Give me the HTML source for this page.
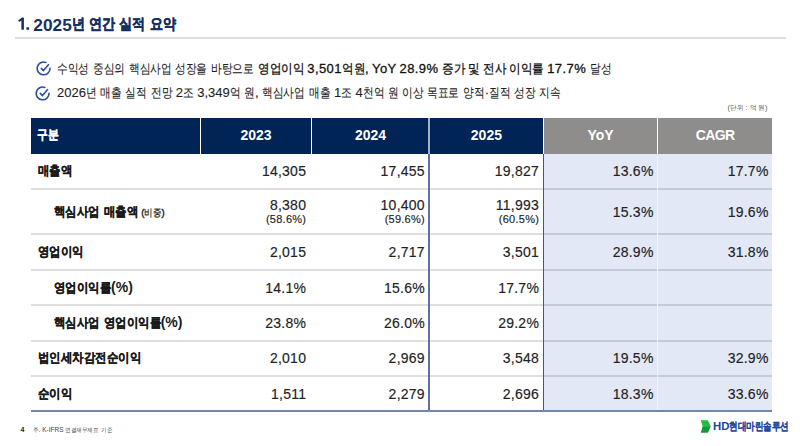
<!DOCTYPE html>
<html lang="ko">
<head>
<meta charset="utf-8">
<style>
*{margin:0;padding:0;box-sizing:border-box;}
html,body{width:800px;height:446px;overflow:hidden;background:#fff;}
body{position:relative;font-family:"Liberation Sans",sans-serif;color:#1e1e1e;}
.abs{position:absolute;white-space:nowrap;}
.title{left:18px;top:14px;font-size:17.3px;font-weight:bold;color:#17305f;line-height:22px;}
.title .k{font-size:14.8px;}
.rule{left:15px;top:37px;width:771px;height:2px;background:#dedede;}
.bl{left:57px;font-size:13px;line-height:16px;color:#1e1e1e;-webkit-text-stroke:0.12px currentColor;}
.bl .k{font-size:12.9px;}
.bl b{font-weight:normal;color:#111;-webkit-text-stroke:0.3px currentColor;letter-spacing:0.4px;}
.ico{width:15px;height:15px;}
.unit{right:32.5px;top:103px;font-size:7.5px;color:#555;--s:0.95;}
.hd{top:118px;height:35.6px;padding-bottom:1.9px;background:#012457;color:#fff;font-weight:bold;font-size:14px;display:flex;align-items:center;justify-content:center;}
.hd .k{font-size:13.3px;}
.hd.g{background:#8e8d8b;}
.cell{display:flex;align-items:center;justify-content:flex-end;font-size:14px;padding-right:3.4px;color:#222;-webkit-text-stroke:0.15px currentColor;letter-spacing:0.25px;}
.lab{left:31px;width:169px;display:flex;align-items:center;font-size:14px;font-weight:bold;padding-left:7px;color:#1a1a1a;}
.lab .k{font-size:13.2px;}
.lab.in{padding-left:23px;}
.hl{background:#e2e8f5;}
.hline{height:2px;background:rgba(0,0,0,0.125);}

.cell.two{flex-direction:column;align-items:flex-end;justify-content:center;}
.cell.two .sub{font-size:11px;line-height:12px;}
.cell.two div:first-child{line-height:15px;}
.sm{font-size:9.5px;font-weight:normal;margin-left:3.5px;-webkit-text-stroke:0.4px currentColor;color:#222;}
.sm .k{font-size:9.6px;}
.pg{left:20.5px;top:426px;font-size:7px;font-weight:bold;color:#222;}
.note{left:33px;top:426px;font-size:6.5px;color:#444;}
.note .k{font-size:6.2px;}
.logo{left:713px;top:419.5px;font-size:11.4px;font-weight:bold;color:#2045a0;}
.logo .k{font-size:10.5px;}
.unit .k{font-size:7.2px;}
.k{display:inline-block;transform:translateY(var(--dy,0px)) scaleX(var(--s));transform-origin:0 50%;margin-right:calc((var(--s) - 1) * var(--n) * 1em);}
.title{--s:0.87;--dy:-2.5px;word-spacing:-0.6px;}
.bl{--s:0.825;}
.bl b{--s:0.89;word-spacing:-0.8px;}
.bl b .k{letter-spacing:0;}
.lab{--s:0.88;}
.hd{--s:0.83;--dy:-0.3px;}
.lab .k,.hd .k{-webkit-text-stroke:0.25px currentColor;}
.title .k{-webkit-text-stroke:0.45px currentColor;}
.logo .k{-webkit-text-stroke:0.1px currentColor;}
.sm{--s:0.85;}
.logo{--s:0.78;}
.note{--s:0.93;}

</style>
</head>
<body>

<svg class="abs" style="left:18px;top:17px" width="13" height="14" viewBox="0 0 13 14"><rect x="3.4" y="0.8" width="2.5" height="11.9" fill="#17305f"/><path d="M1.5 3.6 L4.6 1.6" stroke="#17305f" stroke-width="2.2" stroke-linecap="round" fill="none"/><rect x="8.4" y="10.3" width="2.7" height="2.5" rx="0.5" fill="#17305f"/></svg>
<div class="abs title" style="left:33.3px">2025<span class="k" style="--n:1">년</span> <span class="k" style="--n:2">연간</span> <span class="k" style="--n:2">실적</span> <span class="k" style="--n:2">요약</span></div>
<div class="abs rule"></div>

<svg class="abs ico" style="left:36px;top:61px" viewBox="0 0 15 15"><path d="M9.8 1.4 A6.4 6.4 0 1 0 14 7.2" fill="none" stroke="#2b4fa3" stroke-width="1.6" stroke-linecap="round"/><path d="M5.3 7.4 L7.5 9.6 L12.4 3.7" fill="none" stroke="#2b4fa3" stroke-width="1.6" stroke-linecap="round" stroke-linejoin="round"/></svg>
<div class="abs bl" style="top:61px"><span class="k" style="--n:3">수익성</span> <span class="k" style="--n:3">중심의</span> <span class="k" style="--n:4">핵심사업</span> <span class="k" style="--n:3">성장을</span> <span class="k" style="--n:4">바탕으로</span> <b><span class="k" style="--n:4">영업이익</span> 3,501<span class="k" style="--n:2">억원</span>, YoY 28.9% <span class="k" style="--n:2">증가</span> <span class="k" style="--n:1">및</span> <span class="k" style="--n:2">전사</span> <span class="k" style="--n:3">이익률</span> 17.7%</b> <span class="k" style="--n:2">달성</span></div>

<svg class="abs ico" style="left:35.3px;top:85.8px" viewBox="0 0 15 15"><path d="M9.8 1.4 A6.4 6.4 0 1 0 14 7.2" fill="none" stroke="#2b4fa3" stroke-width="1.6" stroke-linecap="round"/><path d="M5.3 7.4 L7.5 9.6 L12.4 3.7" fill="none" stroke="#2b4fa3" stroke-width="1.6" stroke-linecap="round" stroke-linejoin="round"/></svg>
<div class="abs bl" style="top:85px">2026<span class="k" style="--n:1">년</span> <span class="k" style="--n:2">매출</span> <span class="k" style="--n:2">실적</span> <span class="k" style="--n:2">전망</span> 2<span class="k" style="--n:1">조</span> 3,349<span class="k" style="--n:1">억</span> <span class="k" style="--n:1">원</span>, <span class="k" style="--n:4">핵심사업</span> <span class="k" style="--n:2">매출</span> 1<span class="k" style="--n:1">조</span> 4<span class="k" style="--n:2">천억</span> <span class="k" style="--n:1">원</span> <span class="k" style="--n:2">이상</span> <span class="k" style="--n:3">목표로</span> <span class="k" style="--n:2">양적</span>·<span class="k" style="--n:2">질적</span> <span class="k" style="--n:2">성장</span> <span class="k" style="--n:2">지속</span></div>

<div class="abs unit">(<span class="k" style="--n:2">단위</span> : <span class="k" style="--n:1">억</span> <span class="k" style="--n:1">원</span>)</div>

<div class="abs hl" style="left:544px;top:153.4px;width:113px;height:257.5px;"></div>
<div class="abs hl" style="left:658px;top:153.4px;width:114px;height:257.5px;"></div>

<div class="abs hd" style="left:31.4px;width:168.6px;justify-content:flex-start;padding-left:5.9px;"><span class="k" style="--n:2">구분</span></div>
<div class="abs hd" style="left:201px;width:110px;">2023</div>
<div class="abs hd" style="left:312px;width:117px;">2024</div>
<div class="abs hd" style="left:430px;width:112.8px;">2025</div>
<div class="abs hd g" style="left:544px;width:113px;">YoY</div>
<div class="abs hd g" style="left:658.4px;width:113.6px;letter-spacing:-0.6px;">CAGR</div>

<div class="abs hline" style="left:31px;width:741px;top:188px;"></div>
<div class="abs hline" style="left:31px;width:741px;top:233px;"></div>
<div class="abs hline" style="left:31px;width:741px;top:269px;"></div>
<div class="abs hline" style="left:31px;width:741px;top:304px;"></div>
<div class="abs hline" style="left:31px;width:741px;top:339.5px;"></div>
<div class="abs hline" style="left:31px;width:741px;top:375px;"></div>
<div class="abs" style="left:657px;top:153.5px;width:1.4px;height:258px;background:#f2f5fb;"></div>
<div class="abs" style="left:428px;top:118px;width:2px;height:35.5px;background:#a3b0c8;"></div>
<div class="abs vb" style="left:428px;top:153.5px;width:2px;height:258px;background:#5b71a8;"></div>
<div class="abs vb" style="left:542.8px;top:153.5px;width:1.4px;height:258px;background:#3b5788;"></div>
<div class="abs" style="left:31.3px;top:410.4px;width:741.2px;height:2px;background:#7386ad;"></div>

<div class="abs lab" style="top:153.5px;height:34.5px;"><span><span class="k" style="--n:3">매출액</span></span></div>
<div class="abs cell" style="left:201px;width:108.60000000000002px;top:153.5px;height:34.5px;">14,305</div>
<div class="abs cell" style="left:312px;width:116.30000000000001px;top:153.5px;height:34.5px;">17,455</div>
<div class="abs cell" style="left:430px;width:112.5px;top:153.5px;height:34.5px;">19,827</div>
<div class="abs cell" style="left:544px;width:113px;top:153.5px;height:34.5px;">13.6%</div>
<div class="abs cell" style="left:658px;width:114px;top:153.5px;height:34.5px;">17.7%</div>
<div class="abs lab in" style="top:190px;height:43px;"><span><span class="k" style="--n:4">핵심사업</span> <span class="k" style="--n:3">매출액</span><span class="sm">(<span class="k" style="--n:2">비중</span>)</span></span></div>
<div class="abs cell two" style="left:201px;width:108.60000000000002px;top:190px;height:43px;"><div>8,380</div><div class="sub">(58.6%)</div></div>
<div class="abs cell two" style="left:312px;width:116.30000000000001px;top:190px;height:43px;"><div>10,400</div><div class="sub">(59.6%)</div></div>
<div class="abs cell two" style="left:430px;width:112.5px;top:190px;height:43px;"><div>11,993</div><div class="sub">(60.5%)</div></div>
<div class="abs cell" style="left:544px;width:113px;top:190px;height:43px;">15.3%</div>
<div class="abs cell" style="left:658px;width:114px;top:190px;height:43px;">19.6%</div>
<div class="abs lab" style="top:235px;height:34px;"><span><span class="k" style="--n:4">영업이익</span></span></div>
<div class="abs cell" style="left:201px;width:108.60000000000002px;top:235px;height:34px;">2,015</div>
<div class="abs cell" style="left:312px;width:116.30000000000001px;top:235px;height:34px;">2,717</div>
<div class="abs cell" style="left:430px;width:112.5px;top:235px;height:34px;">3,501</div>
<div class="abs cell" style="left:544px;width:113px;top:235px;height:34px;">28.9%</div>
<div class="abs cell" style="left:658px;width:114px;top:235px;height:34px;">31.8%</div>
<div class="abs lab in" style="top:271px;height:33px;"><span><span class="k" style="--n:5">영업이익률</span>(%)</span></div>
<div class="abs cell" style="left:201px;width:108.60000000000002px;top:271px;height:33px;">14.1%</div>
<div class="abs cell" style="left:312px;width:116.30000000000001px;top:271px;height:33px;">15.6%</div>
<div class="abs cell" style="left:430px;width:112.5px;top:271px;height:33px;">17.7%</div>
<div class="abs lab in" style="top:306px;height:33.5px;"><span><span class="k" style="--n:4">핵심사업</span> <span class="k" style="--n:5">영업이익률</span>(%)</span></div>
<div class="abs cell" style="left:201px;width:108.60000000000002px;top:306px;height:33.5px;">23.8%</div>
<div class="abs cell" style="left:312px;width:116.30000000000001px;top:306px;height:33.5px;">26.0%</div>
<div class="abs cell" style="left:430px;width:112.5px;top:306px;height:33.5px;">29.2%</div>
<div class="abs lab" style="top:341.5px;height:33.5px;"><span><span class="k" style="--n:9">법인세차감전순이익</span></span></div>
<div class="abs cell" style="left:201px;width:108.60000000000002px;top:341.5px;height:33.5px;">2,010</div>
<div class="abs cell" style="left:312px;width:116.30000000000001px;top:341.5px;height:33.5px;">2,969</div>
<div class="abs cell" style="left:430px;width:112.5px;top:341.5px;height:33.5px;">3,548</div>
<div class="abs cell" style="left:544px;width:113px;top:341.5px;height:33.5px;">19.5%</div>
<div class="abs cell" style="left:658px;width:114px;top:341.5px;height:33.5px;">32.9%</div>
<div class="abs lab" style="top:377px;height:33.5px;"><span><span class="k" style="--n:3">순이익</span></span></div>
<div class="abs cell" style="left:201px;width:108.60000000000002px;top:377px;height:33.5px;">1,511</div>
<div class="abs cell" style="left:312px;width:116.30000000000001px;top:377px;height:33.5px;">2,279</div>
<div class="abs cell" style="left:430px;width:112.5px;top:377px;height:33.5px;">2,696</div>
<div class="abs cell" style="left:544px;width:113px;top:377px;height:33.5px;">18.3%</div>
<div class="abs cell" style="left:658px;width:114px;top:377px;height:33.5px;">33.6%</div>

<div class="abs pg">4</div>
<div class="abs note"><span class="k" style="--n:1">주</span>. K-IFRS <span class="k" style="--n:6">연결재무제표</span> <span class="k" style="--n:2">기준</span></div>
<svg class="abs" style="left:700px;top:420px" width="11" height="13" viewBox="0 0 11 13"><path d="M0.7 0.3 H7.9 L10.8 6.4 H2.7 Z" fill="#26bd3f"/><path d="M2.7 6.3 H10.8 L7.9 12.8 H0.7 Z" fill="#0e9a3b"/></svg>
<div class="abs logo">HD<span class="k" style="--n:7">현대마린솔루션</span></div>

</body>
</html>
